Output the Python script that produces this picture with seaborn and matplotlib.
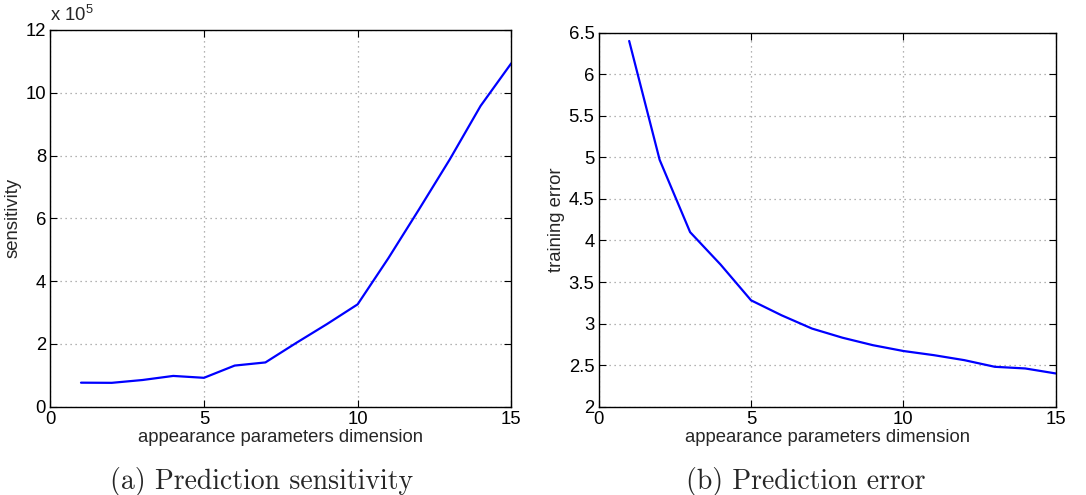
import matplotlib
matplotlib.use("Agg")
import matplotlib.pyplot as plt
import seaborn as sns
import pandas as pd

# Data
dimension = list(range(1, 16))
sensitivity_x1e5 = [0.765, 0.76, 0.85, 0.98, 0.92, 1.31, 1.41, 2.03, 2.63, 3.26,
                    4.73, 6.29, 7.88, 9.58, 10.94]
training_error = [6.40, 4.97, 4.10, 3.71, 3.28, 3.10, 2.94, 2.83, 2.74, 2.67,
                  2.62, 2.56, 2.48, 2.46, 2.40]

x_ticks = [0, 5, 10, 15]
sens_ticks = [0, 2, 4, 6, 8, 10, 12]
err_ticks = [2, 2.5, 3, 3.5, 4, 4.5, 5, 5.5, 6, 6.5]
err_ticklabels = ["2", "2.5", "3", "3.5", "4", "4.5", "5", "5.5", "6", "6.5"]
xlabel = "appearance parameters dimension"
captions = ["(a) Prediction sensitivity", "(b) Prediction error"]

sns.set_style("ticks")
plt.rcParams['font.family'] = ['Liberation Sans', 'DejaVu Sans']
plt.rcParams['mathtext.fontset'] = 'custom'
plt.rcParams['mathtext.rm'] = 'Liberation Sans'

df = pd.DataFrame({"dim": dimension, "sens": sensitivity_x1e5, "err": training_error})

fig = plt.figure(figsize=(10.86, 4.95), dpi=100)
ax1 = fig.add_axes([0.0463, 0.1784, 0.4245, 0.761])
ax2 = fig.add_axes([0.5513, 0.1784, 0.4208, 0.7556])

blue = (0, 0, 1)
fs = 13.3
sns.lineplot(data=df, x="dim", y="sens", ax=ax1, color=blue, linewidth=1.6)
sns.lineplot(data=df, x="dim", y="err", ax=ax2, color=blue, linewidth=1.6)

for ax in (ax1, ax2):
    ax.set_xlim(0, 15)
    ax.set_xticks(x_ticks)
    ax.set_xticklabels([str(t) for t in x_ticks])
    ax.set_xlabel(xlabel, fontsize=fs, labelpad=1)
    ax.grid(True, color="#9a9a9a", linestyle=(0, (1, 3)), linewidth=0.9)
    ax.tick_params(direction="in", length=5, width=0.8, top=True, right=True,
                   labelsize=fs, pad=3, colors="black")
    for s in ax.spines.values():
        s.set_color("black")
        s.set_linewidth(1.0)
        s.set_visible(True)

ax1.set_ylim(0, 12)
ax1.set_yticks(sens_ticks)
ax1.set_yticklabels([str(t) for t in sens_ticks])
ax1.set_ylabel("sensitivity", fontsize=fs, labelpad=3)
ax1.text(0.0, 1.012, r"x 10$^{5}$", transform=ax1.transAxes, fontsize=fs,
         ha="left", va="bottom")

ax2.set_ylim(2, 6.5)
ax2.set_yticks(err_ticks)
ax2.set_yticklabels(err_ticklabels)
ax2.set_ylabel("training error", fontsize=fs, labelpad=3)

fig.text(262 / 1086, 1 - 481 / 495, captions[0], family="cmr10", fontsize=20,
         ha="center", va="center")
fig.text(806 / 1086, 1 - 481 / 495, captions[1], family="cmr10", fontsize=20,
         ha="center", va="center")

fig.savefig("out.png", dpi=100)
